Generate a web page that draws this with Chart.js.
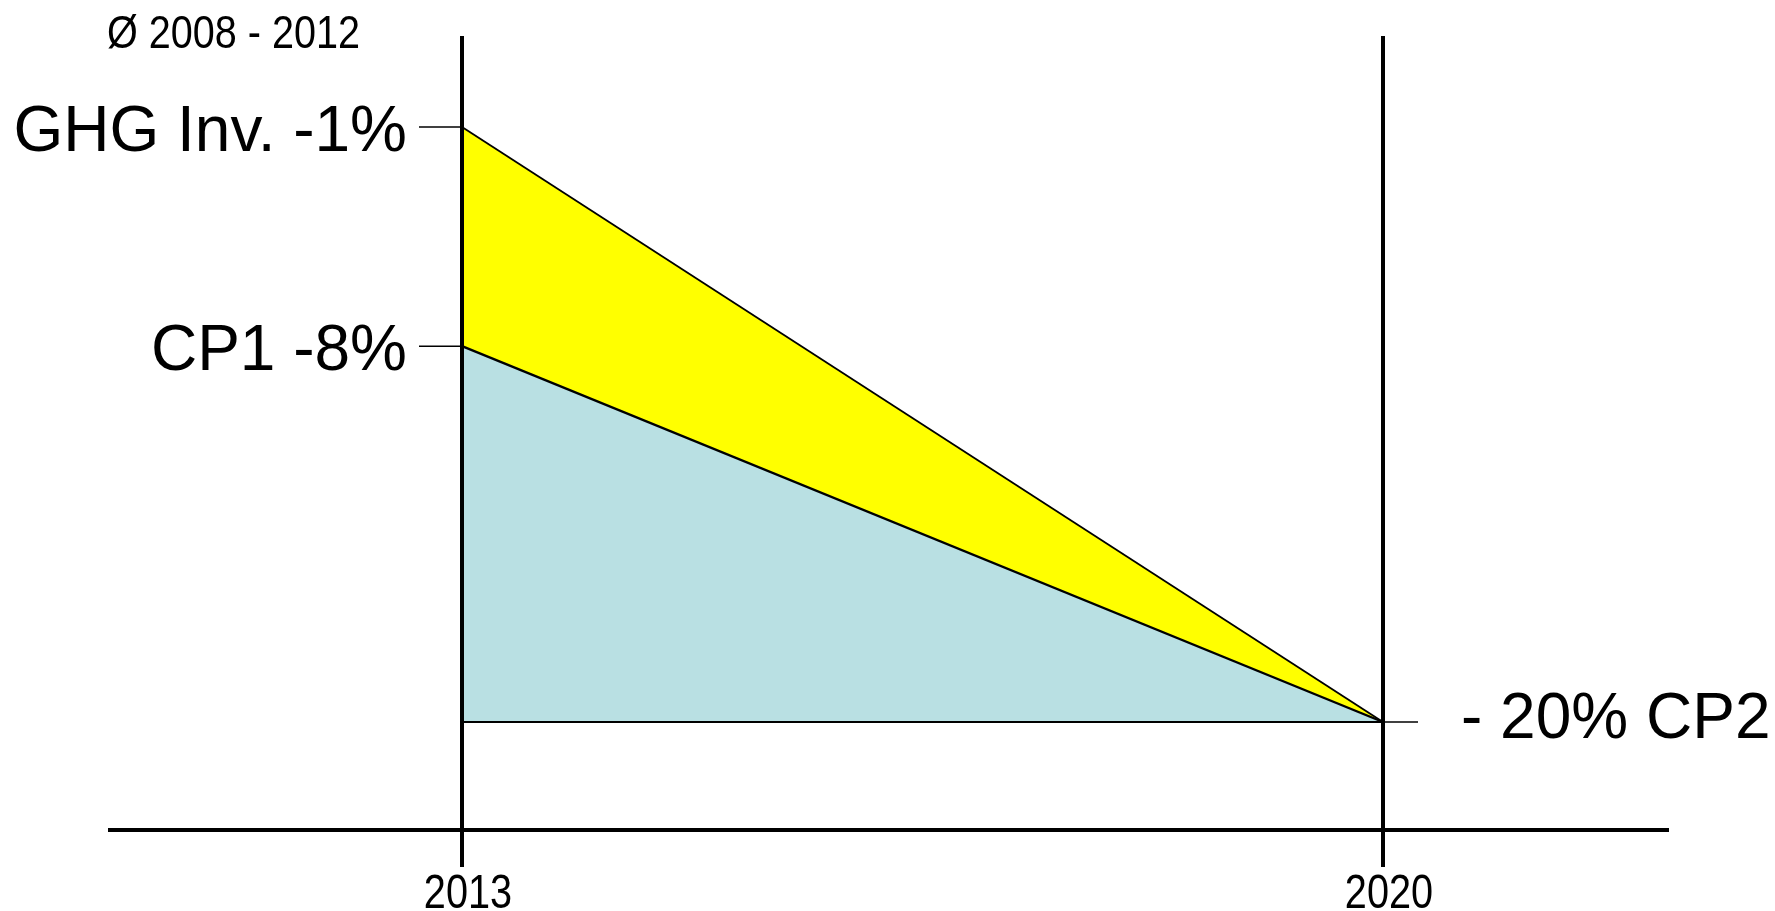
<!DOCTYPE html>
<html>
<head>
<meta charset="utf-8">
<title>CP2 target</title>
<script src="https://cdn.jsdelivr.net/npm/chart.js@4.4.1/dist/chart.umd.min.js"></script>
<style>
    html, body { margin: 0; padding: 0; background: #fff; }
    #chart { display: block; }
</style>
</head>
<body>
<canvas id="chart" width="1775" height="911"></canvas>
<script>
// data (percent vs. the 2008-2012 average)
const years = [2013, 2020];
const ghgInventory = [-1, -20];
const cp1Path = [-8, -20];
const cp2Floor = [-20, -20];

const leftLabels = ['GHG Inv. -1%', 'CP1 -8%'];
const leftValues = [-1, -8];
const rightLabel = '- 20% CP2';
const rightValue = -20;
const baseLabel = 'Ø 2008 - 2012';

const mainFont = '"Liberation Sans", Arial, sans-serif';

function toPoints(values) {
    return years.map((y, i) => ({ x: y, y: values[i] }));
}

// narrow text: no Arial Narrow here, so squeeze Liberation Sans
function narrowText(ctx, text, x, y, size, squeeze, align) {
    ctx.save();
    ctx.font = size + 'px ' + mainFont;
    ctx.textAlign = align;
    ctx.textBaseline = 'alphabetic';
    ctx.translate(x, y);
    ctx.scale(squeeze, 1);
    ctx.fillText(text, 0, 0);
    ctx.restore();
}

// annotations: side labels with their little tick marks, year labels
const labelPlugin = {
    id: 'sideLabels',
    afterDraw(chart) {
        const ctx = chart.ctx;
        const xs = chart.scales.x;
        const ys = chart.scales.y;
        const xLeft = xs.getPixelForValue(years[0]);
        const xRight = xs.getPixelForValue(years[years.length - 1]);

        ctx.save();
        ctx.strokeStyle = '#000';
        ctx.lineWidth = 1.5;
        ctx.fillStyle = '#000';
        ctx.font = '64px ' + mainFont;
        ctx.textBaseline = 'alphabetic';

        ctx.textAlign = 'right';
        leftLabels.forEach((text, i) => {
            const py = ys.getPixelForValue(leftValues[i]);
            ctx.beginPath();
            ctx.moveTo(xLeft - 43, py);
            ctx.lineTo(xLeft, py);
            ctx.stroke();
            ctx.fillText(text, xLeft - 55, py + 24);
        });

        const ry = ys.getPixelForValue(rightValue);
        ctx.beginPath();
        ctx.moveTo(xRight, ry);
        ctx.lineTo(xRight + 35, ry);
        ctx.stroke();
        ctx.textAlign = 'left';
        ctx.fillText(rightLabel, xRight + 78, ry + 16);

        narrowText(ctx, baseLabel, 107, 48, 46, 0.86, 'left');

        // year labels sit a little right of their lines in the original
        xs.ticks.forEach(t => {
            narrowText(ctx, String(t.value), xs.getPixelForValue(t.value) + 6, 908, 49, 0.81, 'center');
        });
        ctx.restore();
    }
};

new Chart(document.getElementById('chart'), {
    type: 'line',
    data: {
        datasets: [
            {
                label: 'GHG inventory',
                data: toPoints(ghgInventory),
                borderColor: '#000',
                borderWidth: 1.8,
                backgroundColor: '#ffff00',
                fill: '+1',
                pointRadius: 0,
                tension: 0
            },
            {
                label: 'CP1',
                data: toPoints(cp1Path),
                borderColor: '#000',
                borderWidth: 2.4,
                backgroundColor: '#b9e0e3',
                fill: '+1',
                pointRadius: 0,
                tension: 0
            },
            {
                label: 'CP2',
                data: toPoints(cp2Floor),
                borderColor: '#000',
                borderWidth: 2.2,
                fill: false,
                pointRadius: 0,
                tension: 0
            }
        ]
    },
    options: {
        responsive: false,
        animation: false,
        devicePixelRatio: 1,
        layout: { padding: { left: 110, right: 108, top: 36, bottom: 44 } },
        plugins: {
            legend: { display: false },
            tooltip: { enabled: false },
            filler: { drawTime: 'beforeDatasetsDraw' }
        },
        scales: {
            x: {
                type: 'linear',
                min: 2010.3246,
                max: 2022.1585,
                afterBuildTicks: (scale) => {
                    scale.ticks = years.map(v => ({ value: v }));
                },
                ticks: { display: false },
                grid: {
                    color: '#000',
                    lineWidth: 4,
                    tickLength: 37,
                    drawTicks: true,
                    z: 1
                },
                border: { display: true, color: '#000', width: 4, z: 1 }
            },
            y: {
                type: 'linear',
                display: false,
                min: -23.449,
                max: 1.906
            }
        }
    },
    plugins: [labelPlugin]
});
</script>
</body>
</html>
